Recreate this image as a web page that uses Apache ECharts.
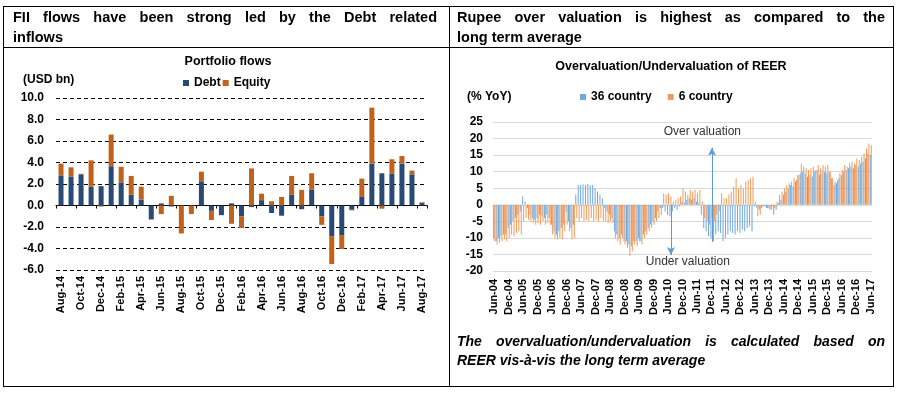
<!DOCTYPE html>
<html>
<head>
<meta charset="utf-8">
<script src="https://cdn.jsdelivr.net/npm/echarts@6/dist/echarts.min.js"></script>
<style>
  html, body { margin: 0; padding: 0; background: #fff; }
  #wrap { position: relative; width: 899px; height: 394px; overflow: hidden; background: #fff; }
  #chart { position: absolute; left: 0; top: 0; width: 899px; height: 394px; }
  .ln { position: absolute; background: #000; }
  .hdr { position: absolute; font-family: 'Liberation Sans', Arial, sans-serif; font-weight: bold; font-size: 14.5px; line-height: 20px; color: #000; }
  .note { position: absolute; font-family: 'Liberation Sans', Arial, sans-serif; font-weight: bold; font-style: italic; font-size: 14px; line-height: 19px; color: #000; }
  .just { text-align: justify; text-align-last: justify; white-space: nowrap; }
</style>
</head>
<body>
<div id="wrap">
  <div id="chart"></div>
  <div class="ln" style="left:3px;top:6px;width:891px;height:1px"></div>
  <div class="ln" style="left:3px;top:47px;width:891px;height:1px"></div>
  <div class="ln" style="left:3px;top:386px;width:891px;height:1px"></div>
  <div class="ln" style="left:3px;top:6px;width:1px;height:381px"></div>
  <div class="ln" style="left:449px;top:6px;width:1px;height:381px"></div>
  <div class="ln" style="left:893px;top:6px;width:1px;height:381px"></div>
  <div class="hdr" style="left:13px;top:7px;width:424px">
    <div class="just">FII flows have been strong led by the Debt related</div>
    <div>inflows</div>
  </div>
  <div class="hdr" style="left:457px;top:7px;width:428px">
    <div class="just">Rupee over valuation is highest as compared to the</div>
    <div>long term average</div>
  </div>
  <div class="note" style="left:457px;top:332px;width:428px">
    <div class="just">The overvaluation/undervaluation is calculated based on</div>
    <div>REER vis-à-vis the long term average</div>
  </div>
</div>
<script>
// ---- Left chart: Portfolio flows (USD bn) ----
const flowMonths = ['Aug-14','Sep-14','Oct-14','Nov-14','Dec-14','Jan-15','Feb-15','Mar-15','Apr-15','May-15','Jun-15','Jul-15',
  'Aug-15','Sep-15','Oct-15','Nov-15','Dec-15','Jan-16','Feb-16','Mar-16','Apr-16','May-16','Jun-16','Jul-16',
  'Aug-16','Sep-16','Oct-16','Nov-16','Dec-16','Jan-17','Feb-17','Mar-17','Apr-17','May-17','Jun-17','Jul-17','Aug-17'];
const debtFlows = [2.8, 2.7, 2.9, 1.75, 1.8, 3.65, 2.15, 1.0, 0.55, -1.3, 0.2, -0.1,
  0, 0, 2.25, -0.5, -0.9, 0.2, -1.0, -0.15, 0.5, -0.7, -0.95, 1.0,
  -0.35, 1.5, -1.0, -2.85, -2.75, -0.4, 0.8, 3.9, 3.0, 2.95, 3.9, 2.9, 0.25];
const equityFlows = [1.1, 0.85, 0.05, 2.45, -0.1, 2.95, 1.45, 1.75, 1.2, 0, -0.8, 0.9,
  -2.6, -0.8, 0.9, -0.85, 0, -1.7, -1.1, 3.45, 0.6, 0.4, 0.8, 1.75,
  1.45, 1.5, -0.8, -2.6, -1.3, -0.05, 1.7, 5.2, -0.3, 1.35, 0.7, 0.35, 0.05];

// ---- Right chart: Over/Undervaluation of REER (% YoY), Jun-04 .. Jun-17 ----
const monthNames = ['Jan','Feb','Mar','Apr','May','Jun','Jul','Aug','Sep','Oct','Nov','Dec'];
const reerMonths = [];
for (let y = 2004; y <= 2017; y++) {
  for (let m = 0; m < 12; m++) {
    if ((y === 2004 && m < 5) || (y === 2017 && m > 5)) continue;
    reerMonths.push(monthNames[m] + '-' + String(y).slice(2));
  }
}
const reer36 = [
  -10, -11, -10, -9.5, -9, -9,
  -7, -6, -5, -4, -3, -2,
  2.5, 1, -1, -3, -4, -4.5,
  -4, -3, -3.5, -4, -3, -4,
  -6, -8, -9, -8, -7, -6,
  -2, -5, -7, -6, 3, 6,
  6, 6.2, 6, 6.3, 5.8, 6,
  5, 4, 3, 2, -1, -2,
  -3, -4, -8, -9, -10, -9,
  -11, -11, -12, -12.5, -11, -11,
  -10, -11, -9, -8, -7, -6,
  -5, -4, -2, -1, -1, -2,
  -3, -3.5, -2, -1, -1.5, -0.5,
  1, 0.5, 1.5, 2, 1.5, 2,
  1, 0.5, -3, -7, -8, -9.5,
  -10, -11, -9, -8, -8.5, -11,
  -10, -9, -8, -8.5, -9, -8,
  -8.5, -7.5, -8, -7, -6.5, -8,
  -0.5, -1, -1.5, -1, -0.5, -1,
  -1, -1.5, -3, -1.5, 0.5, 1.5,
  3, 4, 5, 6, 5.5, 7,
  9, 9.5, 10, 9.5, 8.5, 9,
  8.5, 10, 10.5, 9, 9.5, 10,
  9.5, 10, 8, 6, 6.5, 8,
  9, 10, 10.5, 11, 11.5, 11,
  12, 11.5, 12.5, 13, 14, 15.5,
  15];
const reer6 = [
  -11, -12, -11.5, -11, -10.5, -11,
  -10, -9, -9.5, -8.5, -8, -9,
  -5, -4, -4.5, -5, -5.5, -6,
  -5.5, -6, -5, -6, -5.5, -6,
  -9, -10, -10.5, -10, -10.5, -8,
  -6, -8, -10.5, -10, -4, -5,
  -4, -5, -4.5, -5, -4, -5,
  -4.5, -5, -4, -5, -5, -5.5,
  -5, -5.5, -10, -11, -12, -10,
  -12, -13, -15.5, -14, -12, -12.5,
  -11, -12, -10, -9, -8, -7,
  -6, -5, -4, -3, 3.5, 3,
  3.5, 2.5, 1, 1.5, 2, 2.5,
  5, 4, 3, 4.5, 4, 4.5,
  3.5, 4.5, 1, -4, -5, -6,
  -4, -5, -3, -2, 3.5, 2,
  2, 3, 4, 5.5, 8, 5,
  6, 5, 7, 7.5, 8, 8.5,
  1, -3.5, -3, -0.5, -0.5, -1,
  -1.5, -0.5, -1, 1, 3, 4,
  5, 6, 6.5, 7, 8, 7.5,
  9, 12.5, 11.5, 11, 10.5, 11,
  11.5, 10.5, 12, 11, 12, 11.5,
  12, 10, 8, 7, 7.5, 9.5,
  10.5, 12, 11.5, 12.5, 13, 12.5,
  14, 13.5, 14.5, 15.5, 17, 18.5,
  18];

const FONT = "'Liberation Sans', Arial, sans-serif";
const bold = (size) => ({ fontFamily: FONT, fontWeight: 'bold', fontSize: size, color: '#000' });

const chart = echarts.init(document.getElementById('chart'), null, { renderer: 'canvas' });
chart.setOption({
  animation: false,
  backgroundColor: 'transparent',
  title: [
    { text: 'Portfolio flows', left: 228, top: 55, textAlign: 'center', padding: 0, textStyle: bold(12.5) },
    { text: '(USD bn)', left: 23, top: 74, padding: 0, textStyle: bold(12) },
    { text: 'Overvaluation/Undervaluation of REER', left: 671, top: 60, textAlign: 'center', padding: 0, textStyle: bold(12.5) },
    { text: '(% YoY)', left: 467, top: 91, padding: 0, textStyle: bold(12) }
  ],
  legend: [
    { data: ['Debt', 'Equity'], left: 183, top: 77, padding: 0, icon: 'rect', itemWidth: 6, itemHeight: 6, itemGap: 2,
      textStyle: bold(12) },
    { data: ['36 country', '6 country'], left: 580, top: 91, padding: 0, icon: 'rect', itemWidth: 6, itemHeight: 6, itemGap: 16,
      textStyle: bold(12) }
  ],
  grid: [
    { left: 56, top: 98, width: 371, height: 172 },
    { left: 493, top: 122, width: 379, height: 149 }
  ],
  xAxis: [
    { type: 'category', gridIndex: 0, data: flowMonths, position: 'bottom',
      axisLine: { show: false, onZero: false }, axisTick: { show: false }, splitLine: { show: false },
      axisLabel: Object.assign({ interval: 1, rotate: 90, margin: 6 }, bold(11)) },
    { type: 'category', gridIndex: 0, data: flowMonths, position: 'bottom',
      axisLine: { show: true, onZero: true, lineStyle: { color: '#000', width: 1 } },
      axisTick: { show: true, interval: 1, length: 3, lineStyle: { color: '#000' } },
      axisLabel: { show: false }, splitLine: { show: false } },
    { type: 'category', gridIndex: 1, data: reerMonths, position: 'bottom',
      axisLine: { show: false, onZero: false }, axisTick: { show: false }, splitLine: { show: false },
      axisLabel: Object.assign({ interval: 5, rotate: 90, margin: 8 }, bold(11)) }
  ],
  yAxis: [
    { type: 'value', gridIndex: 0, min: -6, max: 10, interval: 2,
      axisLine: { show: false }, axisTick: { show: false },
      splitLine: { show: true, lineStyle: { color: '#000', width: 1, type: [4, 3] } },
      axisLabel: Object.assign({ margin: 12, formatter: (v) => v.toFixed(1) }, bold(12)) },
    { type: 'value', gridIndex: 1, min: -20, max: 25, interval: 5,
      axisLine: { show: false }, axisTick: { show: false },
      splitLine: { show: true, lineStyle: { color: '#D9D9D9', width: 1 } },
      axisLabel: Object.assign({ margin: 10 }, bold(12)) }
  ],
  series: [
    { name: 'Debt', type: 'bar', stack: 'flows', xAxisIndex: 0, yAxisIndex: 0, data: debtFlows,
      barWidth: 5, itemStyle: { color: '#284A74' } },
    { name: 'Equity', type: 'bar', stack: 'flows', xAxisIndex: 0, yAxisIndex: 0, data: equityFlows,
      barWidth: 5, itemStyle: { color: '#C0621C' } },
    { name: '36 country', type: 'bar', xAxisIndex: 2, yAxisIndex: 1, data: reer36,
      barWidth: 1, barGap: '0%', itemStyle: { color: '#6FA8DC' } },
    { name: '6 country', type: 'bar', xAxisIndex: 2, yAxisIndex: 1, data: reer6,
      barWidth: 1, barGap: '0%', itemStyle: { color: '#F09A5C' },
      markLine: {
        silent: true, symbol: ['none', 'arrow'], symbolSize: [6, 8],
        lineStyle: { color: '#5B9BD5', width: 1, type: 'solid' }, label: { show: false },
        data: [
          [{ coord: ['Dec-11', -11.2] }, { coord: ['Dec-11', 17.2] }],
          [{ coord: ['Jul-10', 0] }, { coord: ['Jul-10', -15.2] }]
        ]
      },
      markPoint: {
        silent: true, symbol: 'circle', symbolSize: 1, itemStyle: { color: 'rgba(0,0,0,0)' },
        label: { show: true, position: 'inside', fontFamily: FONT, fontSize: 12, color: '#333' },
        data: [
          { coord: ['Aug-11', 22], label: { formatter: 'Over valuation' } },
          { coord: ['Feb-11', -17.3], label: { formatter: 'Under valuation' } }
        ]
      }
    }
  ]
});
</script>
</body>
</html>
